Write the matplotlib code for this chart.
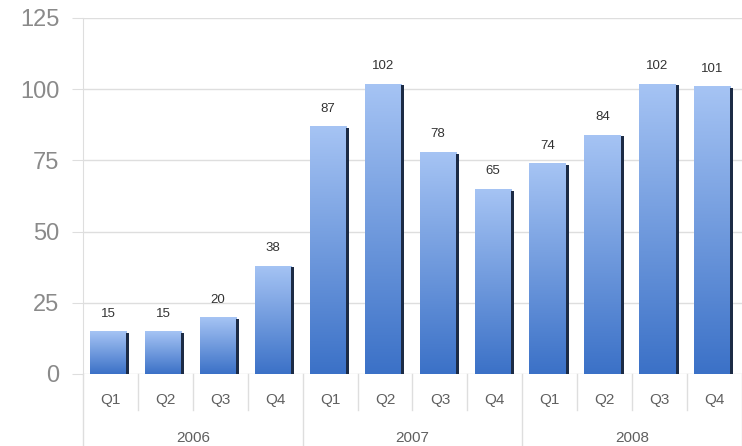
import numpy as np
import matplotlib.pyplot as plt
from matplotlib.colors import LinearSegmentedColormap
from matplotlib.patches import Rectangle

# data
quarters = ["Q1", "Q2", "Q3", "Q4"] * 3
years = ["2006", "2007", "2008"]
values = [15, 15, 20, 38, 87, 102, 78, 65, 74, 84, 102, 101]
yticks = [0, 25, 50, 75, 100, 125]

plt.rcParams['font.family'] = ['Liberation Sans', 'DejaVu Sans']

fig = plt.figure(figsize=(7.42, 4.46), dpi=100)
ax = fig.add_axes([83 / 742, 72 / 446, 659 / 742, 356 / 446])

grid_c = "#dedede"
text_c = "#8a8a8a"
cmap = LinearSegmentedColormap.from_list("bar", ["#3b71c7", "#a6c4f4"])
grad = np.linspace(0, 1, 256).reshape(-1, 1)

n = len(values)
bw = 0.66
for i, v in enumerate(values):
    x0 = i - 0.37
    rect = Rectangle((x0, 0), bw, v, facecolor="none", edgecolor="none")
    ax.add_patch(rect)
    im = ax.imshow(grad, cmap=cmap, origin="lower", aspect="auto",
                   extent=[x0, x0 + bw, 0, v], zorder=2)
    im.set_clip_path(rect)
    # dark right edge
    ax.bar(x0 + bw, v - 0.6, width=0.055, align="edge", color="#1c2b45", zorder=2)
    ax.text(i - 0.04, v + 4, str(v), ha="center", va="bottom",
            fontsize=9.5, color="#333333", zorder=3)

ax.set_xlim(-0.5, n - 0.5)
ax.set_ylim(0, 125)
ax.set_yticks(yticks)
ax.set_xticks([])
for y in yticks:
    ax.axhline(y, color=grid_c, lw=1, zorder=1)
ax.tick_params(axis="y", length=8, color=grid_c, labelcolor=text_c,
               labelsize=17, pad=9)
for s in ["top", "right", "bottom"]:
    ax.spines[s].set_visible(False)
ax.spines["left"].set_color(grid_c)

# category axis below the plot
tr = ax.get_xaxis_transform()
for i, q in enumerate(quarters):
    ax.text(i, -0.073, q, transform=tr, ha="center", va="center",
            fontsize=11, color="#606060")
for i in range(n + 1):
    bottom = -0.202 if i % 4 == 0 else -0.101
    ax.plot([i - 0.5, i - 0.5], [0, bottom], transform=tr, color=grid_c,
            lw=1, clip_on=False)
for k, yr in enumerate(years):
    ax.text(4 * k + 1.5, -0.18, yr, transform=tr, ha="center", va="center",
            fontsize=11, color="#606060")

fig.savefig("out.png", dpi=100)
